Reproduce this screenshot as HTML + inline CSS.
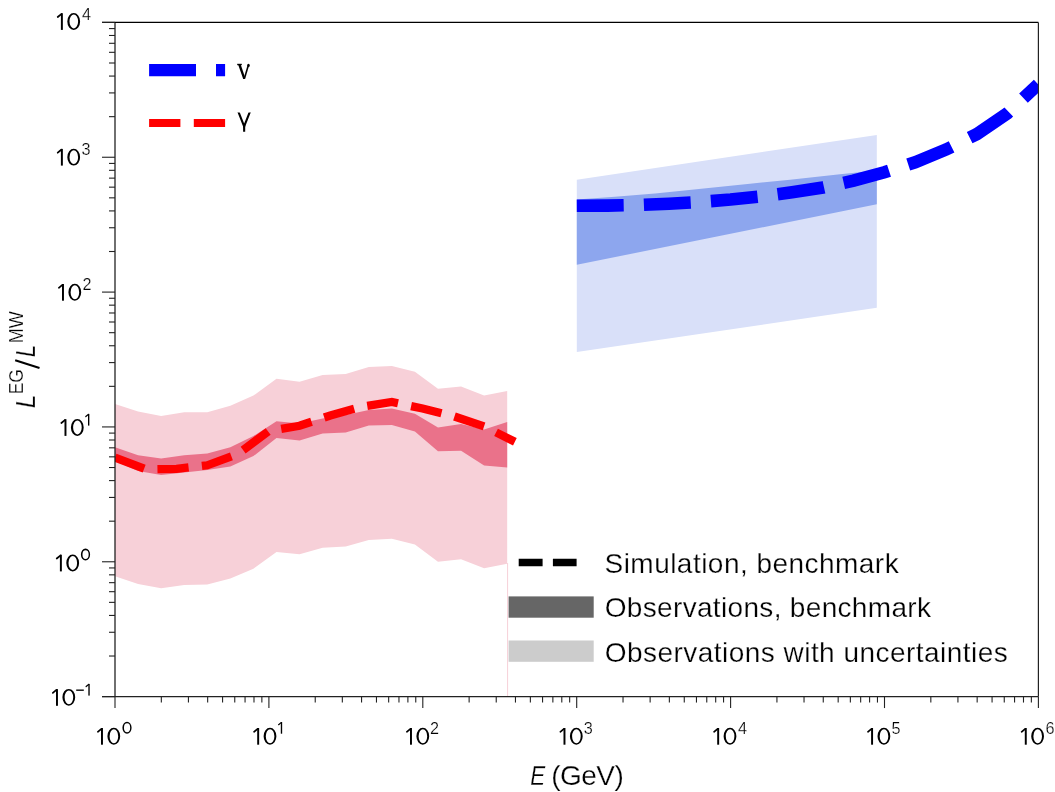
<!DOCTYPE html>
<html><head><meta charset="utf-8"><style>
html,body{margin:0;padding:0;background:#fff;}
svg{display:block;will-change:transform;}
text{font-family:"Liberation Sans", sans-serif;fill:#000;stroke:#fff;stroke-width:0.25px;}
</style></head><body>
<svg width="1055" height="792" viewBox="0 0 1055 792">
<rect width="1055" height="792" fill="#fff"/>
<defs><clipPath id="pc"><rect x="115.0" y="22.4" width="923.4000000000001" height="674.15"/></clipPath></defs>
<g clip-path="url(#pc)">
<polygon points="115.00,403.90 138.07,411.50 161.14,416.00 184.21,412.30 207.28,412.30 230.35,405.80 253.42,395.60 276.49,378.80 299.56,381.80 322.63,375.00 345.70,374.00 368.77,367.10 391.84,365.90 414.91,371.70 437.98,388.70 461.05,386.50 484.12,395.60 507.19,391.10 507.19,563.80 484.12,568.20 461.05,559.30 437.98,561.70 414.91,544.40 391.84,538.80 368.77,540.10 345.70,546.60 322.63,547.70 299.56,554.20 276.49,552.10 253.42,568.70 230.35,578.60 207.28,584.60 184.21,585.00 161.14,588.20 138.07,584.00 115.00,576.20" fill="#f7d0d8"/>
<polygon points="115.00,447.30 138.07,455.30 161.14,458.60 184.21,455.30 207.28,453.40 230.35,447.30 253.42,436.00 276.49,421.20 299.56,423.50 322.63,418.50 345.70,414.90 368.77,409.90 391.84,408.40 414.91,413.80 437.98,427.60 461.05,424.00 484.12,429.40 507.19,422.00 507.19,467.50 484.12,465.40 461.05,450.80 437.98,451.30 414.91,431.60 391.84,425.10 368.77,425.50 345.70,432.60 322.63,433.60 299.56,440.60 276.49,438.00 253.42,456.10 230.35,466.60 207.28,470.00 184.21,472.50 161.14,475.00 138.07,471.00 115.00,461.00" fill="#ea728a"/>
<line x1="507.6" y1="563" x2="507.6" y2="696" stroke="#f7d0d8" stroke-width="1"/>
<polygon points="576.8,179.7 876.8,135.0 876.8,307.8 576.8,352.0" fill="#d9e0f9"/>
<polygon points="576.8,199.6 615,196.75 655,193.5 750,183.65 790,179.7 840,174.2 876.8,170.6 876.8,204.2 576.8,264.8" fill="#8da6ee"/>
<path d="M115.00,457.60 L145.76,469.30 L176.52,468.80 L207.28,465.30 L238.04,453.90 L268.80,431.00 L299.56,425.80 L330.32,415.50 L361.08,406.90 L391.84,402.00 L422.60,408.50 L453.36,416.20 L484.12,426.40 L514.88,441.80" fill="none" stroke="#ff0000" stroke-width="8.3" stroke-dasharray="31.2 13.4" stroke-linejoin="miter" stroke-linecap="butt"/>
<path d="M576.80,205.80 L607.56,205.60 L638.32,205.00 L669.08,203.70 L699.84,202.00 L730.60,199.60 L761.36,196.40 L792.12,192.20 L822.88,187.50 L853.64,180.60 L884.40,172.30 L915.16,162.30 L945.92,149.60 L976.68,134.20 L1007.44,113.30 L1038.20,84.30" fill="none" stroke="#0000ff" stroke-width="12.6" stroke-dasharray="46.9 20.2" stroke-linejoin="miter" stroke-linecap="butt"/>
</g>
<line x1="115.0" y1="22.4" x2="115.0" y2="696.55" stroke="#222" stroke-width="1.3"/>
<line x1="102.0" y1="696.55" x2="1038.4" y2="696.55" stroke="#222" stroke-width="1.2"/>
<line x1="102.0" y1="22.4" x2="1038.4" y2="22.4" stroke="#000" stroke-width="1.2"/>
<line x1="1038.4" y1="22.4" x2="1038.4" y2="696.55" stroke="#222" stroke-width="1.2"/>
<line x1="102.0" y1="696.61" x2="115.0" y2="696.61" stroke="#222" stroke-width="1.1"/>
<line x1="109.0" y1="656.02" x2="115.0" y2="656.02" stroke="#222" stroke-width="1.1"/>
<line x1="109.0" y1="632.27" x2="115.0" y2="632.27" stroke="#222" stroke-width="1.1"/>
<line x1="109.0" y1="615.43" x2="115.0" y2="615.43" stroke="#222" stroke-width="1.1"/>
<line x1="109.0" y1="602.36" x2="115.0" y2="602.36" stroke="#222" stroke-width="1.1"/>
<line x1="109.0" y1="591.68" x2="115.0" y2="591.68" stroke="#222" stroke-width="1.1"/>
<line x1="109.0" y1="582.66" x2="115.0" y2="582.66" stroke="#222" stroke-width="1.1"/>
<line x1="109.0" y1="574.84" x2="115.0" y2="574.84" stroke="#222" stroke-width="1.1"/>
<line x1="109.0" y1="567.94" x2="115.0" y2="567.94" stroke="#222" stroke-width="1.1"/>
<line x1="102.0" y1="561.77" x2="115.0" y2="561.77" stroke="#222" stroke-width="1.1"/>
<line x1="109.0" y1="521.18" x2="115.0" y2="521.18" stroke="#222" stroke-width="1.1"/>
<line x1="109.0" y1="497.43" x2="115.0" y2="497.43" stroke="#222" stroke-width="1.1"/>
<line x1="109.0" y1="480.59" x2="115.0" y2="480.59" stroke="#222" stroke-width="1.1"/>
<line x1="109.0" y1="467.52" x2="115.0" y2="467.52" stroke="#222" stroke-width="1.1"/>
<line x1="109.0" y1="456.84" x2="115.0" y2="456.84" stroke="#222" stroke-width="1.1"/>
<line x1="109.0" y1="447.82" x2="115.0" y2="447.82" stroke="#222" stroke-width="1.1"/>
<line x1="109.0" y1="440.00" x2="115.0" y2="440.00" stroke="#222" stroke-width="1.1"/>
<line x1="109.0" y1="433.10" x2="115.0" y2="433.10" stroke="#222" stroke-width="1.1"/>
<line x1="102.0" y1="426.93" x2="115.0" y2="426.93" stroke="#222" stroke-width="1.1"/>
<line x1="109.0" y1="386.34" x2="115.0" y2="386.34" stroke="#222" stroke-width="1.1"/>
<line x1="109.0" y1="362.59" x2="115.0" y2="362.59" stroke="#222" stroke-width="1.1"/>
<line x1="109.0" y1="345.75" x2="115.0" y2="345.75" stroke="#222" stroke-width="1.1"/>
<line x1="109.0" y1="332.68" x2="115.0" y2="332.68" stroke="#222" stroke-width="1.1"/>
<line x1="109.0" y1="322.00" x2="115.0" y2="322.00" stroke="#222" stroke-width="1.1"/>
<line x1="109.0" y1="312.98" x2="115.0" y2="312.98" stroke="#222" stroke-width="1.1"/>
<line x1="109.0" y1="305.16" x2="115.0" y2="305.16" stroke="#222" stroke-width="1.1"/>
<line x1="109.0" y1="298.26" x2="115.0" y2="298.26" stroke="#222" stroke-width="1.1"/>
<line x1="102.0" y1="292.09" x2="115.0" y2="292.09" stroke="#222" stroke-width="1.1"/>
<line x1="109.0" y1="251.50" x2="115.0" y2="251.50" stroke="#222" stroke-width="1.1"/>
<line x1="109.0" y1="227.75" x2="115.0" y2="227.75" stroke="#222" stroke-width="1.1"/>
<line x1="109.0" y1="210.91" x2="115.0" y2="210.91" stroke="#222" stroke-width="1.1"/>
<line x1="109.0" y1="197.84" x2="115.0" y2="197.84" stroke="#222" stroke-width="1.1"/>
<line x1="109.0" y1="187.16" x2="115.0" y2="187.16" stroke="#222" stroke-width="1.1"/>
<line x1="109.0" y1="178.14" x2="115.0" y2="178.14" stroke="#222" stroke-width="1.1"/>
<line x1="109.0" y1="170.32" x2="115.0" y2="170.32" stroke="#222" stroke-width="1.1"/>
<line x1="109.0" y1="163.42" x2="115.0" y2="163.42" stroke="#222" stroke-width="1.1"/>
<line x1="102.0" y1="157.25" x2="115.0" y2="157.25" stroke="#222" stroke-width="1.1"/>
<line x1="109.0" y1="116.66" x2="115.0" y2="116.66" stroke="#222" stroke-width="1.1"/>
<line x1="109.0" y1="92.91" x2="115.0" y2="92.91" stroke="#222" stroke-width="1.1"/>
<line x1="109.0" y1="76.07" x2="115.0" y2="76.07" stroke="#222" stroke-width="1.1"/>
<line x1="109.0" y1="63.00" x2="115.0" y2="63.00" stroke="#222" stroke-width="1.1"/>
<line x1="109.0" y1="52.32" x2="115.0" y2="52.32" stroke="#222" stroke-width="1.1"/>
<line x1="109.0" y1="43.30" x2="115.0" y2="43.30" stroke="#222" stroke-width="1.1"/>
<line x1="109.0" y1="35.48" x2="115.0" y2="35.48" stroke="#222" stroke-width="1.1"/>
<line x1="109.0" y1="28.58" x2="115.0" y2="28.58" stroke="#222" stroke-width="1.1"/>
<line x1="102.0" y1="22.41" x2="115.0" y2="22.41" stroke="#222" stroke-width="1.1"/>
<line x1="115.00" y1="696.55" x2="115.00" y2="708.05" stroke="#222" stroke-width="1.1"/>
<line x1="161.33" y1="696.55" x2="161.33" y2="702.55" stroke="#222" stroke-width="1.1"/>
<line x1="188.43" y1="696.55" x2="188.43" y2="702.55" stroke="#222" stroke-width="1.1"/>
<line x1="207.66" y1="696.55" x2="207.66" y2="702.55" stroke="#222" stroke-width="1.1"/>
<line x1="222.57" y1="696.55" x2="222.57" y2="702.55" stroke="#222" stroke-width="1.1"/>
<line x1="234.76" y1="696.55" x2="234.76" y2="702.55" stroke="#222" stroke-width="1.1"/>
<line x1="245.06" y1="696.55" x2="245.06" y2="702.55" stroke="#222" stroke-width="1.1"/>
<line x1="253.99" y1="696.55" x2="253.99" y2="702.55" stroke="#222" stroke-width="1.1"/>
<line x1="261.86" y1="696.55" x2="261.86" y2="702.55" stroke="#222" stroke-width="1.1"/>
<line x1="268.90" y1="696.55" x2="268.90" y2="708.05" stroke="#222" stroke-width="1.1"/>
<line x1="315.23" y1="696.55" x2="315.23" y2="702.55" stroke="#222" stroke-width="1.1"/>
<line x1="342.33" y1="696.55" x2="342.33" y2="702.55" stroke="#222" stroke-width="1.1"/>
<line x1="361.56" y1="696.55" x2="361.56" y2="702.55" stroke="#222" stroke-width="1.1"/>
<line x1="376.47" y1="696.55" x2="376.47" y2="702.55" stroke="#222" stroke-width="1.1"/>
<line x1="388.66" y1="696.55" x2="388.66" y2="702.55" stroke="#222" stroke-width="1.1"/>
<line x1="398.96" y1="696.55" x2="398.96" y2="702.55" stroke="#222" stroke-width="1.1"/>
<line x1="407.89" y1="696.55" x2="407.89" y2="702.55" stroke="#222" stroke-width="1.1"/>
<line x1="415.76" y1="696.55" x2="415.76" y2="702.55" stroke="#222" stroke-width="1.1"/>
<line x1="422.80" y1="696.55" x2="422.80" y2="708.05" stroke="#222" stroke-width="1.1"/>
<line x1="469.13" y1="696.55" x2="469.13" y2="702.55" stroke="#222" stroke-width="1.1"/>
<line x1="496.23" y1="696.55" x2="496.23" y2="702.55" stroke="#222" stroke-width="1.1"/>
<line x1="515.46" y1="696.55" x2="515.46" y2="702.55" stroke="#222" stroke-width="1.1"/>
<line x1="530.37" y1="696.55" x2="530.37" y2="702.55" stroke="#222" stroke-width="1.1"/>
<line x1="542.56" y1="696.55" x2="542.56" y2="702.55" stroke="#222" stroke-width="1.1"/>
<line x1="552.86" y1="696.55" x2="552.86" y2="702.55" stroke="#222" stroke-width="1.1"/>
<line x1="561.79" y1="696.55" x2="561.79" y2="702.55" stroke="#222" stroke-width="1.1"/>
<line x1="569.66" y1="696.55" x2="569.66" y2="702.55" stroke="#222" stroke-width="1.1"/>
<line x1="576.70" y1="696.55" x2="576.70" y2="708.05" stroke="#222" stroke-width="1.1"/>
<line x1="623.03" y1="696.55" x2="623.03" y2="702.55" stroke="#222" stroke-width="1.1"/>
<line x1="650.13" y1="696.55" x2="650.13" y2="702.55" stroke="#222" stroke-width="1.1"/>
<line x1="669.36" y1="696.55" x2="669.36" y2="702.55" stroke="#222" stroke-width="1.1"/>
<line x1="684.27" y1="696.55" x2="684.27" y2="702.55" stroke="#222" stroke-width="1.1"/>
<line x1="696.46" y1="696.55" x2="696.46" y2="702.55" stroke="#222" stroke-width="1.1"/>
<line x1="706.76" y1="696.55" x2="706.76" y2="702.55" stroke="#222" stroke-width="1.1"/>
<line x1="715.69" y1="696.55" x2="715.69" y2="702.55" stroke="#222" stroke-width="1.1"/>
<line x1="723.56" y1="696.55" x2="723.56" y2="702.55" stroke="#222" stroke-width="1.1"/>
<line x1="730.60" y1="696.55" x2="730.60" y2="708.05" stroke="#222" stroke-width="1.1"/>
<line x1="776.93" y1="696.55" x2="776.93" y2="702.55" stroke="#222" stroke-width="1.1"/>
<line x1="804.03" y1="696.55" x2="804.03" y2="702.55" stroke="#222" stroke-width="1.1"/>
<line x1="823.26" y1="696.55" x2="823.26" y2="702.55" stroke="#222" stroke-width="1.1"/>
<line x1="838.17" y1="696.55" x2="838.17" y2="702.55" stroke="#222" stroke-width="1.1"/>
<line x1="850.36" y1="696.55" x2="850.36" y2="702.55" stroke="#222" stroke-width="1.1"/>
<line x1="860.66" y1="696.55" x2="860.66" y2="702.55" stroke="#222" stroke-width="1.1"/>
<line x1="869.59" y1="696.55" x2="869.59" y2="702.55" stroke="#222" stroke-width="1.1"/>
<line x1="877.46" y1="696.55" x2="877.46" y2="702.55" stroke="#222" stroke-width="1.1"/>
<line x1="884.50" y1="696.55" x2="884.50" y2="708.05" stroke="#222" stroke-width="1.1"/>
<line x1="930.83" y1="696.55" x2="930.83" y2="702.55" stroke="#222" stroke-width="1.1"/>
<line x1="957.93" y1="696.55" x2="957.93" y2="702.55" stroke="#222" stroke-width="1.1"/>
<line x1="977.16" y1="696.55" x2="977.16" y2="702.55" stroke="#222" stroke-width="1.1"/>
<line x1="992.07" y1="696.55" x2="992.07" y2="702.55" stroke="#222" stroke-width="1.1"/>
<line x1="1004.26" y1="696.55" x2="1004.26" y2="702.55" stroke="#222" stroke-width="1.1"/>
<line x1="1014.56" y1="696.55" x2="1014.56" y2="702.55" stroke="#222" stroke-width="1.1"/>
<line x1="1023.49" y1="696.55" x2="1023.49" y2="702.55" stroke="#222" stroke-width="1.1"/>
<line x1="1031.36" y1="696.55" x2="1031.36" y2="702.55" stroke="#222" stroke-width="1.1"/>
<line x1="1038.40" y1="696.55" x2="1038.40" y2="708.05" stroke="#222" stroke-width="1.1"/>
<rect x="60.90" y="13.20" width="1.95" height="16.70" fill="#000"/>
<line x1="57.75" y1="17.00" x2="61.30" y2="14.05" stroke="#000" stroke-width="1.75" stroke-linecap="round"/>
<path d="M67.30,21.45 a6.40,8.45 0 1,0 12.80,0 a6.40,8.45 0 1,0 -12.80,0 Z M69.50,21.45 a4.30,6.95 0 1,0 8.60,0 a4.30,6.95 0 1,0 -8.60,0 Z" fill="#000" fill-rule="evenodd"/>
<text transform="translate(81.94,19.90) scale(0.955,1)" font-size="17.0">4</text>
<rect x="60.90" y="148.90" width="1.95" height="16.70" fill="#000"/>
<line x1="57.75" y1="152.70" x2="61.30" y2="149.75" stroke="#000" stroke-width="1.75" stroke-linecap="round"/>
<path d="M67.30,157.15 a6.40,8.45 0 1,0 12.80,0 a6.40,8.45 0 1,0 -12.80,0 Z M69.50,157.15 a4.30,6.95 0 1,0 8.60,0 a4.30,6.95 0 1,0 -8.60,0 Z" fill="#000" fill-rule="evenodd"/>
<text transform="translate(81.58,154.70) scale(0.955,1)" font-size="17.0">3</text>
<rect x="62.00" y="284.00" width="1.95" height="16.70" fill="#000"/>
<line x1="58.85" y1="287.80" x2="62.40" y2="284.85" stroke="#000" stroke-width="1.75" stroke-linecap="round"/>
<path d="M68.40,292.25 a6.40,8.45 0 1,0 12.80,0 a6.40,8.45 0 1,0 -12.80,0 Z M70.60,292.25 a4.30,6.95 0 1,0 8.60,0 a4.30,6.95 0 1,0 -8.60,0 Z" fill="#000" fill-rule="evenodd"/>
<text transform="translate(82.39,290.30) scale(0.955,1)" font-size="17.0">2</text>
<rect x="64.50" y="419.20" width="1.95" height="16.70" fill="#000"/>
<line x1="61.35" y1="423.00" x2="64.90" y2="420.05" stroke="#000" stroke-width="1.75" stroke-linecap="round"/>
<path d="M70.90,427.45 a6.40,8.45 0 1,0 12.80,0 a6.40,8.45 0 1,0 -12.80,0 Z M73.10,427.45 a4.30,6.95 0 1,0 8.60,0 a4.30,6.95 0 1,0 -8.60,0 Z" fill="#000" fill-rule="evenodd"/>
<rect x="88.00" y="413.91" width="1.36" height="11.69" fill="#000"/>
<line x1="85.80" y1="416.57" x2="88.28" y2="414.50" stroke="#000" stroke-width="1.22" stroke-linecap="round"/>
<rect x="59.90" y="554.70" width="1.95" height="16.70" fill="#000"/>
<line x1="56.75" y1="558.50" x2="60.30" y2="555.55" stroke="#000" stroke-width="1.75" stroke-linecap="round"/>
<path d="M66.30,562.95 a6.40,8.45 0 1,0 12.80,0 a6.40,8.45 0 1,0 -12.80,0 Z M68.50,562.95 a4.30,6.95 0 1,0 8.60,0 a4.30,6.95 0 1,0 -8.60,0 Z" fill="#000" fill-rule="evenodd"/>
<path d="M80.90,554.60 a4.60,6.00 0 1,0 9.20,0 a4.60,6.00 0 1,0 -9.20,0 Z M82.47,554.60 a3.10,4.45 0 1,0 6.20,0 a3.10,4.45 0 1,0 -6.20,0 Z" fill="#000" fill-rule="evenodd"/>
<rect x="56.00" y="689.10" width="1.95" height="16.70" fill="#000"/>
<line x1="52.85" y1="692.90" x2="56.40" y2="689.95" stroke="#000" stroke-width="1.75" stroke-linecap="round"/>
<path d="M62.40,697.35 a6.40,8.45 0 1,0 12.80,0 a6.40,8.45 0 1,0 -12.80,0 Z M64.60,697.35 a4.30,6.95 0 1,0 8.60,0 a4.30,6.95 0 1,0 -8.60,0 Z" fill="#000" fill-rule="evenodd"/>
<rect x="76.20" y="689.50" width="7.6" height="1.35" fill="#000"/>
<rect x="88.34" y="683.91" width="1.36" height="11.69" fill="#000"/>
<line x1="86.13" y1="686.57" x2="88.62" y2="684.50" stroke="#000" stroke-width="1.22" stroke-linecap="round"/>
<rect x="101.00" y="728.00" width="1.95" height="16.70" fill="#000"/>
<line x1="97.85" y1="731.80" x2="101.40" y2="728.85" stroke="#000" stroke-width="1.75" stroke-linecap="round"/>
<path d="M107.40,736.25 a6.40,8.45 0 1,0 12.80,0 a6.40,8.45 0 1,0 -12.80,0 Z M109.60,736.25 a4.30,6.95 0 1,0 8.60,0 a4.30,6.95 0 1,0 -8.60,0 Z" fill="#000" fill-rule="evenodd"/>
<path d="M122.40,727.70 a4.60,6.00 0 1,0 9.20,0 a4.60,6.00 0 1,0 -9.20,0 Z M123.97,727.70 a3.10,4.45 0 1,0 6.20,0 a3.10,4.45 0 1,0 -6.20,0 Z" fill="#000" fill-rule="evenodd"/>
<rect x="257.20" y="728.00" width="1.95" height="16.70" fill="#000"/>
<line x1="254.05" y1="731.80" x2="257.60" y2="728.85" stroke="#000" stroke-width="1.75" stroke-linecap="round"/>
<path d="M263.60,736.25 a6.40,8.45 0 1,0 12.80,0 a6.40,8.45 0 1,0 -12.80,0 Z M265.80,736.25 a4.30,6.95 0 1,0 8.60,0 a4.30,6.95 0 1,0 -8.60,0 Z" fill="#000" fill-rule="evenodd"/>
<rect x="280.80" y="722.01" width="1.36" height="11.69" fill="#000"/>
<line x1="278.60" y1="724.67" x2="281.08" y2="722.61" stroke="#000" stroke-width="1.22" stroke-linecap="round"/>
<rect x="410.00" y="728.00" width="1.95" height="16.70" fill="#000"/>
<line x1="406.85" y1="731.80" x2="410.40" y2="728.85" stroke="#000" stroke-width="1.75" stroke-linecap="round"/>
<path d="M416.40,736.25 a6.40,8.45 0 1,0 12.80,0 a6.40,8.45 0 1,0 -12.80,0 Z M418.60,736.25 a4.30,6.95 0 1,0 8.60,0 a4.30,6.95 0 1,0 -8.60,0 Z" fill="#000" fill-rule="evenodd"/>
<text transform="translate(430.04,733.70) scale(0.955,1)" font-size="17.0">2</text>
<rect x="563.50" y="728.00" width="1.95" height="16.70" fill="#000"/>
<line x1="560.35" y1="731.80" x2="563.90" y2="728.85" stroke="#000" stroke-width="1.75" stroke-linecap="round"/>
<path d="M569.90,736.25 a6.40,8.45 0 1,0 12.80,0 a6.40,8.45 0 1,0 -12.80,0 Z M572.10,736.25 a4.30,6.95 0 1,0 8.60,0 a4.30,6.95 0 1,0 -8.60,0 Z" fill="#000" fill-rule="evenodd"/>
<text transform="translate(583.68,733.70) scale(0.955,1)" font-size="17.0">3</text>
<rect x="717.20" y="728.00" width="1.95" height="16.70" fill="#000"/>
<line x1="714.05" y1="731.80" x2="717.60" y2="728.85" stroke="#000" stroke-width="1.75" stroke-linecap="round"/>
<path d="M723.60,736.25 a6.40,8.45 0 1,0 12.80,0 a6.40,8.45 0 1,0 -12.80,0 Z M725.80,736.25 a4.30,6.95 0 1,0 8.60,0 a4.30,6.95 0 1,0 -8.60,0 Z" fill="#000" fill-rule="evenodd"/>
<text transform="translate(737.99,733.70) scale(0.955,1)" font-size="17.0">4</text>
<rect x="871.10" y="728.00" width="1.95" height="16.70" fill="#000"/>
<line x1="867.95" y1="731.80" x2="871.50" y2="728.85" stroke="#000" stroke-width="1.75" stroke-linecap="round"/>
<path d="M877.50,736.25 a6.40,8.45 0 1,0 12.80,0 a6.40,8.45 0 1,0 -12.80,0 Z M879.70,736.25 a4.30,6.95 0 1,0 8.60,0 a4.30,6.95 0 1,0 -8.60,0 Z" fill="#000" fill-rule="evenodd"/>
<text transform="translate(891.60,733.70) scale(0.955,1)" font-size="17.0">5</text>
<rect x="1024.80" y="728.00" width="1.95" height="16.70" fill="#000"/>
<line x1="1021.65" y1="731.80" x2="1025.20" y2="728.85" stroke="#000" stroke-width="1.75" stroke-linecap="round"/>
<path d="M1031.20,736.25 a6.40,8.45 0 1,0 12.80,0 a6.40,8.45 0 1,0 -12.80,0 Z M1033.40,736.25 a4.30,6.95 0 1,0 8.60,0 a4.30,6.95 0 1,0 -8.60,0 Z" fill="#000" fill-rule="evenodd"/>
<text transform="translate(1045.48,733.70) scale(0.955,1)" font-size="17.0">6</text>
<text transform="translate(530.31,785.00) scale(0.8,1)" font-size="28" font-style="italic">E</text>
<text x="551.26" y="785" font-size="28" letter-spacing="-0.551">(GeV)</text>
<text transform="rotate(-90) translate(-408.37,35.40) scale(0.8937,1)" font-size="28" font-style="italic">L</text>
<text transform="rotate(-90) translate(-394.33,22.80) scale(0.8912,1)" font-size="19.6">EG</text>
<text transform="rotate(-90) translate(-357.31,35.40) scale(0.8232,1)" font-size="28" font-style="italic">L</text>
<text transform="rotate(-90) translate(-343.28,22.80) scale(0.9230,1)" font-size="19.6">MW</text>
<line x1="39.5" y1="367.9" x2="15.2" y2="360.3" stroke="#000" stroke-width="2.1" stroke-linecap="butt"/>
<line x1="149.1" y1="70.1" x2="225.1" y2="70.1" stroke="#0000ff" stroke-width="12.4" stroke-dasharray="46.9 20"/>
<line x1="149.1" y1="123" x2="225.1" y2="123" stroke="#ff0000" stroke-width="8.1" stroke-dasharray="31.3 13.4"/>
<g fill="#000" stroke="none"><rect x="237.2" y="63.8" width="4.6" height="1.4"/><polygon points="238.1,64.6 240.7,64.6 245.1,77.6 244.6,78.9 243.2,78.9"/><polygon points="243.6,78.4 247.3,66.0 248.9,66.3 245.1,78.9"/><ellipse cx="248.45" cy="65.45" rx="1.3" ry="1.65"/></g>
<defs><clipPath id="gc"><rect x="230" y="112.5" width="30" height="20"/></clipPath></defs>
<g clip-path="url(#gc)" stroke="#000" fill="none" stroke-width="2.1"><polyline points="238.1,111.0 244.15,126.3 250.2,111.0" stroke-linejoin="miter"/><line x1="244.15" y1="125.0" x2="244.15" y2="131.7"/></g>
<line x1="518.7" y1="562.5" x2="576.6" y2="562.5" stroke="#000" stroke-width="7.4" stroke-dasharray="23.9 10.3"/>
<rect x="508.6" y="596.4" width="85.1" height="21.3" fill="#666666"/>
<rect x="508.6" y="640.5" width="85.1" height="21.3" fill="#cccccc"/>
<text x="604.53" y="573.1" font-size="28" letter-spacing="0.467">Simulation, benchmark</text>
<text x="604.77" y="617.3" font-size="28" letter-spacing="0.325">Observations, benchmark</text>
<text x="604.77" y="661.5" font-size="28" letter-spacing="0.462">Observations with uncertainties</text>
</svg>
</body></html>
